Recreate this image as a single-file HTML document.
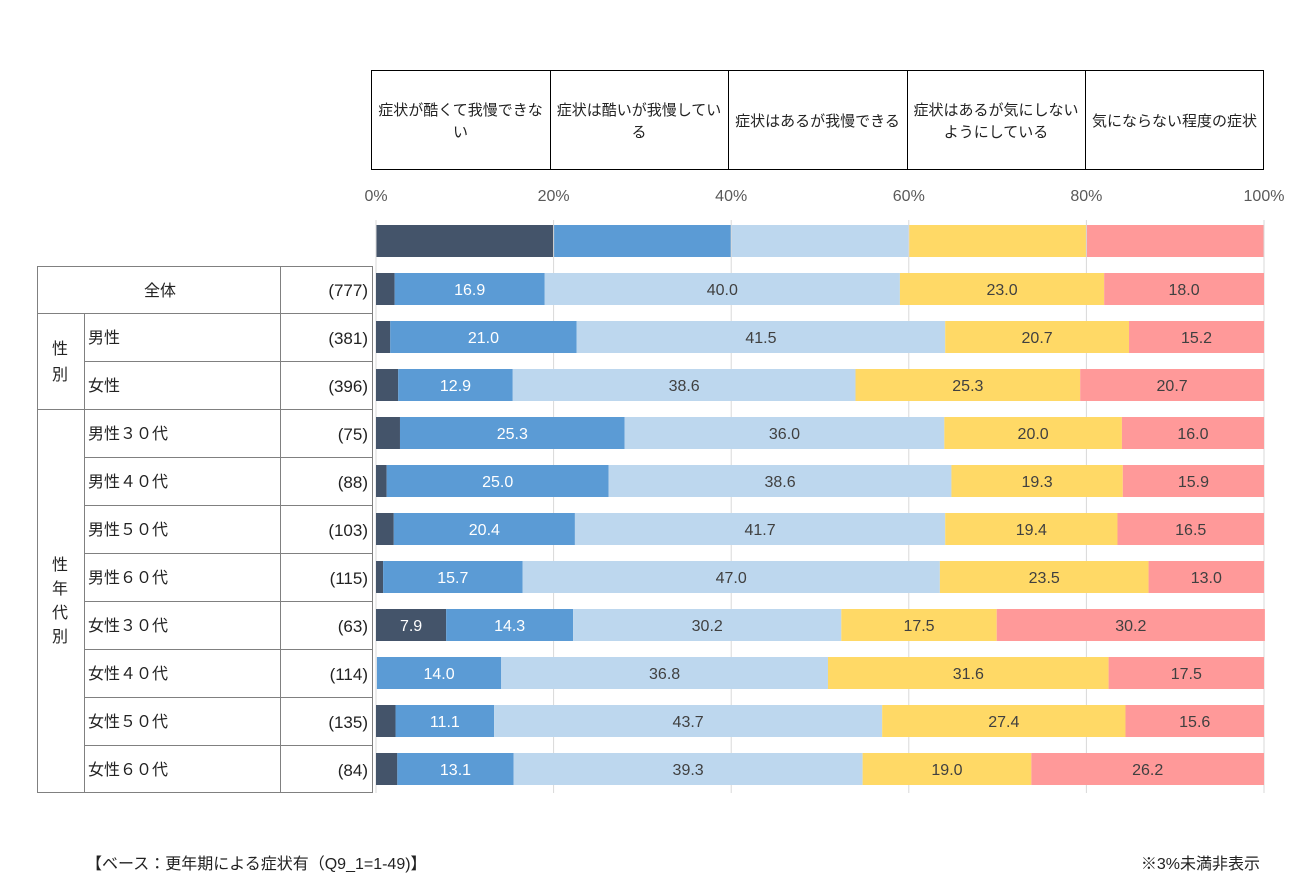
<!DOCTYPE html>
<html><head><meta charset="utf-8">
<style>
body{margin:0;background:#fff;}
svg text{font-family:"Liberation Sans","Noto Sans CJK JP",sans-serif;}
</style></head>
<body>
<svg width="1306" height="890" viewBox="0 0 1306 890">
<g id="header"></g>
<g id="grid"></g>
<g id="table"></g>
<g id="bars"></g>
<text x="86" y="869" font-size="16" fill="#222">【ベース：更年期による症状有（Q9_1=1-49)】</text>
<text x="1260" y="869" font-size="16" fill="#222" text-anchor="end">※3%未満非表示</text>
</svg>
<script>
const categories=["全体","男性","女性","男性３０代","男性４０代","男性５０代","男性６０代","女性３０代","女性４０代","女性５０代","女性６０代"];
const counts=["(777)","(381)","(396)","(75)","(88)","(103)","(115)","(63)","(114)","(135)","(84)"];
const seriesNames=["症状が酷くて我慢できない","症状は酷いが我慢している","症状はあるが我慢できる","症状はあるが気にしないようにしている","気にならない程度の症状"];
const s1=[2.1,1.6,2.5,2.7,1.2,2.0,0.8,7.9,0.1,2.2,2.4];
const s2=[16.9,21.0,12.9,25.3,25.0,20.4,15.7,14.3,14.0,11.1,13.1];
const s3=[40.0,41.5,38.6,36.0,38.6,41.7,47.0,30.2,36.8,43.7,39.3];
const s4=[23.0,20.7,25.3,20.0,19.3,19.4,23.5,17.5,31.6,27.4,19.0];
const s5=[18.0,15.2,20.7,16.0,15.9,16.5,13.0,30.2,17.5,15.6,26.2];
const ticks=["0%","20%","40%","60%","80%","100%"];
const colors=["#44546a","#5b9bd5","#bdd7ee","#ffd966","#ff9999"];
const textCol=["#fff","#fff","#404040","#404040","#404040"];
const NS="http://www.w3.org/2000/svg";
const X0=376,X1=1264;
const x=v=>X0+(X1-X0)*v/100;
const rowY=i=>273+48*i;
function mk(tag,attrs,parent,txt){const e=document.createElementNS(NS,tag);for(const k in attrs)e.setAttribute(k,attrs[k]);if(txt!==undefined)e.textContent=txt;parent.appendChild(e);return e;}
const grid=document.getElementById('grid');
ticks.forEach((t,i)=>{const xv=x(i*20);
 const l=mk('line',{x1:xv,x2:xv,y1:220,y2:793,stroke:'#d9d9d9','stroke-width':1},grid);
 
 
 const tx=mk('text',{x:xv,y:201,'font-size':16,fill:'#595959','text-anchor':'middle'},grid,t);
 
 
});
const hd=document.getElementById('header');
const hx=[371,550,728,907,1085,1264];
const hlines=[["症状が酷くて我慢できな","い"],["症状は酷いが我慢してい","る"],["症状はあるが我慢できる"],["症状はあるが気にしない","ようにしている"],["気にならない程度の症状"]];
mk('rect',{x:371.5,y:70.5,width:892,height:99,fill:'none',stroke:'#000'},hd);
hlines.forEach((ls,i)=>{
 if(i>0)mk('line',{x1:hx[i]+.5,x2:hx[i]+.5,y1:70,y2:170,stroke:'#000'},hd);
 const cx=(hx[i]+hx[i+1])/2;
 ls.forEach((s,j)=>{const t=mk('text',{x:cx,y:(ls.length==1?126:115+j*22),'font-size':15,fill:'#222','text-anchor':'middle'},hd,s);
 
 });
 const r=mk('rect',{x:x(i*20),y:225,width:x((i+1)*20)-x(i*20),height:32,fill:colors[i]},hd);
 
 
});
const tb=document.getElementById('table');
const L=(x1,y1,x2,y2)=>mk('line',{x1,y1,x2,y2,stroke:'#808080','stroke-width':1},tb);
L(37,266.5,372,266.5);L(37.5,266,37.5,793);L(372.5,266,372.5,793);L(280.5,266,280.5,793);L(84.5,313,84.5,793);
L(37,313.5,372,313.5);L(37,409.5,372,409.5);L(37,792.5,372,792.5);
for(let i=2;i<11;i++){if(i==3)continue;L(84,rowY(i)-7.5,372,rowY(i)-7.5);}
mk('text',{x:160,y:296,'font-size':16,fill:'#222','text-anchor':'middle'},tb,"全体");
[["性",354],["別",380]].forEach(a=>mk('text',{x:60,y:a[1],'font-size':16,fill:'#222','text-anchor':'middle'},tb,a[0]));
[["性",570],["年",594],["代",618],["別",642]].forEach(a=>mk('text',{x:60,y:a[1],'font-size':16,fill:'#222','text-anchor':'middle'},tb,a[0]));
categories.forEach((c,i)=>{
 if(i>0){const t=mk('text',{x:88,y:rowY(i)+22,'font-size':16,fill:'#222'},tb,c);
 
 }
 const n=mk('text',{x:368,y:rowY(i)+23,'font-size':17,fill:'#222','text-anchor':'end'},tb,counts[i]);
 
 
});
const bars=document.getElementById('bars');
const series=[s1,s2,s3,s4,s5];
categories.forEach((c,i)=>{
 let acc=0;
 series.forEach((s,k)=>{
  const v=s[i];const a=x(acc),b=x(acc+v);acc+=v;
  if(v<=0.15)return;
  const r=mk('rect',{x:a,y:rowY(i),width:b-a,height:32,fill:colors[k]},bars);
  
  
  if(v>=3){const t=mk('text',{x:(a+b)/2,y:rowY(i)+22,'font-size':16,fill:textCol[k],'text-anchor':'middle'},bars,v.toFixed(1));
  
  }
 });
});
</script>
</body></html>
